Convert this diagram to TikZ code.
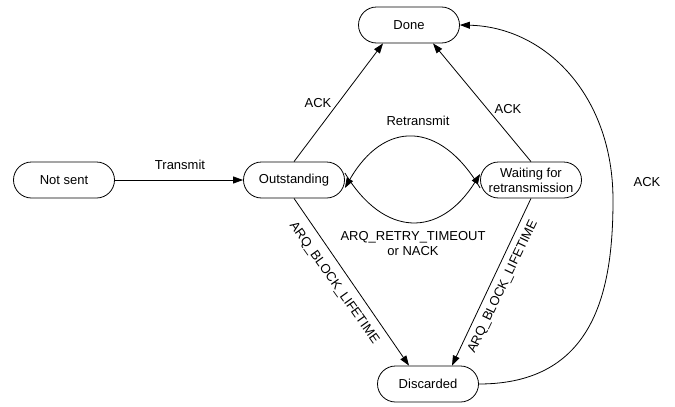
\documentclass[tikz,border=0pt]{standalone}
\usepackage{fontspec}
\setmainfont{Liberation Sans}
\usetikzlibrary{arrows.meta}
\begin{document}
\begin{tikzpicture}[x=1pt,y=-1pt,
  state/.style={draw, line width=0.8pt, rounded corners=18pt, minimum width=101pt, minimum height=36pt, inner sep=1pt, align=center, font=\fontsize{13}{15}\selectfont},
  lbl/.style={font=\fontsize{13}{15}\selectfont, inner sep=0pt, align=center},
  edge/.style={line width=0.8pt, -{Triangle[length=10pt,width=7pt]}}]
\useasboundingbox (0,0) rectangle (675,407);
\node[state] (ns) at (64,180) {Not sent};
\node[state] (out) at (294,180) {Outstanding};
\node[state] (done) at (409,25) {Done};
\node[state] (wait) at (531,180) {Waiting for\\retransmission};
\node[state] (disc) at (428,384) {Discarded};

\coordinate (dL) at ([xshift=-26pt]done.south);
\coordinate (dR) at ([xshift=24pt]done.south);
\coordinate (xL) at ([xshift=-19pt]disc.north);
\coordinate (xR) at ([xshift=24pt]disc.north);
\coordinate (oR1) at ([yshift=-8pt]out.east);
\coordinate (oR2) at ([yshift=7pt]out.east);
\coordinate (wL1) at ([yshift=-8pt]wait.west);
\coordinate (wL2) at ([yshift=6pt]wait.west);

\draw[edge] (ns) -- (out);
\draw[edge] (out.north) -- (dL);
\draw[edge] (wait.north) -- (dR);
\draw[edge] (wL1) .. controls (440,120) and (384,120) .. (oR1);
\draw[edge] (oR2) .. controls (384,238) and (440,238) .. (wL2);
\draw[edge] (out.south) -- (xL);
\draw[edge] (wait.south) -- (xR);
\draw[edge] (disc.east) .. controls (595,384) and (613,290) .. (613,200)
  .. controls (613,95) and (545,27) .. (done.east);

\node[lbl] (t1) at (180,165) {Transmit};
\node[lbl] (t2) at (318,103) {ACK};
\node[lbl] (t3) at (508,109) {ACK};
\node[lbl] (t4) at (418,121) {Retransmit};
\node[lbl] (t5) at (413,244) {ARQ\_RETRY\_TIMEOUT\\or NACK};
\node[lbl] (t6) at (647,182) {ACK};
\node[lbl, rotate=-54.7] (t7) at (334,283) {ARQ\_BLOCK\_LIFETIME};
\node[lbl, rotate=64.4] (t8) at (503,287) {ARQ\_BLOCK\_LIFETIME};
\end{tikzpicture}
\end{document}
